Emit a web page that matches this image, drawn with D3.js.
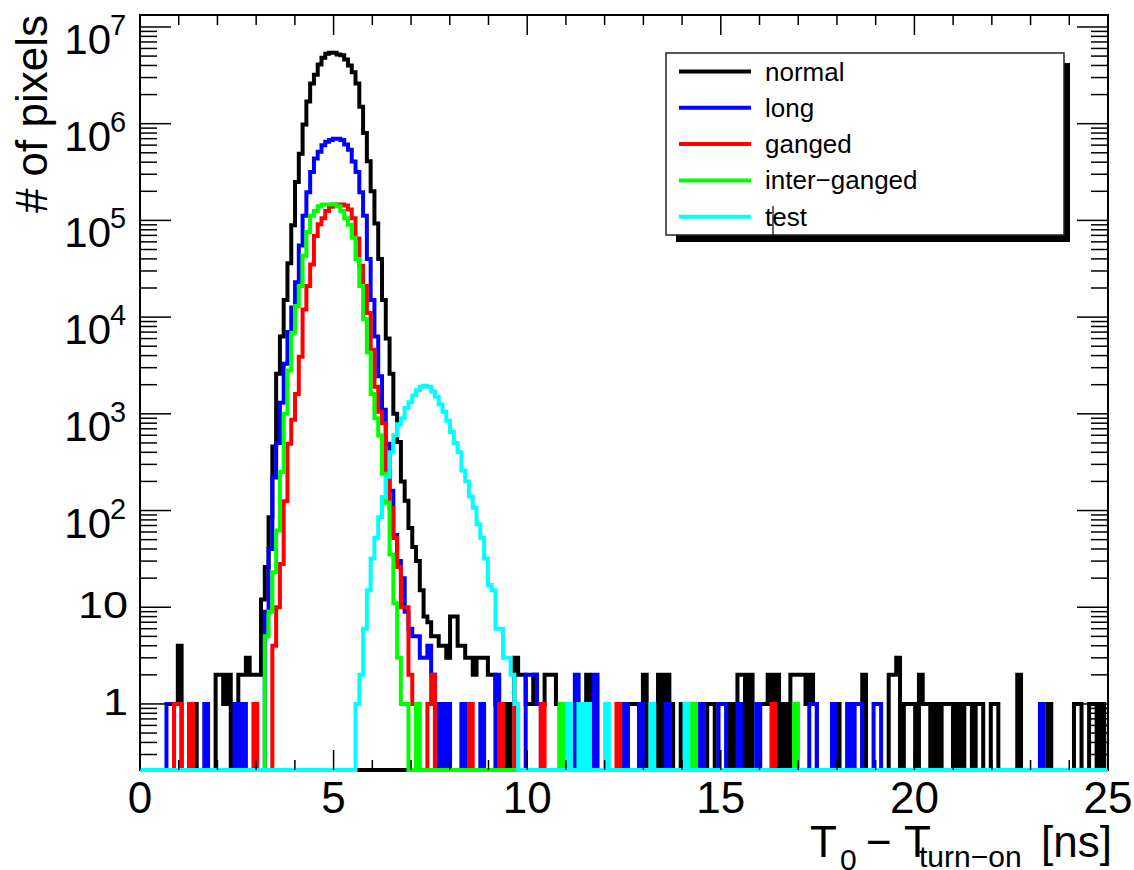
<!DOCTYPE html>
<html lang="en">
<head>
<meta charset="utf-8">
<title>T0 - Tturn-on</title>
<script src="https://cdn.jsdelivr.net/npm/d3@7"></script>
<style>
body { margin: 0; background: #fff; }
text { font-family: "Liberation Sans", Arial, Helvetica, sans-serif; fill: #000; }
</style>
</head>
<body>
<script>
// 256 bins from 0 to 25 ns, counts per bin (16 bins per row)
var nBins = 256, xMax = 25;

var normal = [
  0,0,0,0,0,0,0,0,0,1,4,0,0,1,1,0,
  0,0,0,0,2,2,1,2,0,1,2,2,3,2,2,2,
  12,26,85,460,2600,6300,15000,36000,89000,250000,490000,980000,1700000,2600000,3200000,4100000,
  4800000,5300000,5400000,5400000,5200000,5100000,4600000,4000000,3400000,2600000,1500000,800000,410000,200000,93000,40000,
  15000,6000,2600,1000,510,200,126,66,42,30,15,8,7,5,5,4,
  4,3,8,8,4,4,3,3,2,3,3,3,2,2,1,0,
  1,0,1,3,2,2,1,1,2,1,1,2,2,2,1,0,
  0,0,0,0,0,0,2,1,0,0,0,0,0,0,0,0,
  0,1,1,1,0,2,0,0,0,2,0,2,1,0,0,1,
  0,0,0,0,0,0,1,1,0,0,0,0,1,0,2,2,
  0,2,0,0,1,1,2,1,2,0,1,0,2,2,2,2,
  1,2,1,0,0,0,0,0,1,0,0,0,0,0,0,2,
  0,0,0,0,0,0,2,2,3,0,1,1,1,0,2,1,
  1,0,1,0,1,1,1,0,1,0,1,1,0,1,1,0,
  0,1,1,0,0,0,0,0,2,0,0,0,0,0,0,0,
  1,0,0,0,0,0,0,1,1,0,0,1,1,0,1,0
];

var long = [
  0,0,0,0,0,0,0,1,1,0,0,0,0,0,0,0,
  0,1,0,0,0,0,0,0,0,1,0,1,0,0,0,0,
  0,9,40,220,500,1300,3300,7000,12600,23000,55000,112000,195000,316000,437000,513000,
  600000,650000,680000,700000,700000,680000,610000,537000,407000,316000,195000,112000,40000,15000,6300,2450,
  1100,490,160,56,30,20,9,6,5,5,3,3,4,2,0,1,
  0,1,0,0,0,1,0,0,0,0,1,0,0,0,2,0,
  0,0,0,0,0,0,2,2,2,1,0,0,0,0,0,0,
  0,0,0,2,0,0,0,0,2,0,0,0,0,0,0,0,
  1,0,0,0,1,0,0,0,0,0,0,1,0,0,0,0,
  0,0,0,0,1,0,0,0,0,1,1,0,0,0,1,0,
  0,0,0,1,0,0,0,0,0,0,0,0,0,0,0,0,
  0,1,1,0,0,0,0,1,0,0,0,1,0,1,1,0,
  0,0,1,1,0,0,0,0,0,0,0,0,0,0,0,0,
  0,0,0,0,0,0,0,0,0,0,0,0,0,0,0,0,
  0,0,0,0,0,0,0,0,0,0,0,0,0,0,1,0,
  0,0,0,0,0,0,0,0,0,0,0,0,0,0,0,0
];

var ganged = [
  0,0,0,0,0,0,0,0,0,1,1,0,0,1,0,0,
  0,0,0,0,0,0,0,0,0,0,0,0,0,0,1,0,
  0,0,0,4,10,28,125,490,870,1600,3900,12000,21000,35000,69000,91000,
  105000,125000,138000,146000,146000,146000,143000,130000,105000,65000,34000,21000,11000,4600,1900,1050,
  800,257,107,52,26,10,10,2,1,0,0,0,1,2,0,0,
  0,0,0,0,0,0,0,1,0,0,0,0,0,0,0,1,
  0,0,0,1,0,0,0,0,0,0,1,0,0,0,0,0,
  0,0,0,0,0,0,0,0,0,0,0,0,0,0,1,0,
  0,0,0,0,0,0,0,0,0,0,0,0,0,0,0,0,
  0,0,0,0,0,0,0,0,0,0,0,0,0,0,0,0,
  0,0,0,0,0,0,0,1,0,0,0,0,0,0,0,0,
  0,0,0,0,0,0,0,0,0,0,0,0,0,0,0,0,
  0,0,0,0,0,0,0,0,0,0,0,0,0,0,0,0,
  0,0,0,0,0,0,0,0,0,0,0,0,0,0,0,0,
  0,0,0,0,0,0,0,0,0,0,0,0,0,0,0,0,
  0,0,0,0,0,0,0,0,0,0,0,0,0,0,0,0
];

var interGanged = [
  0,0,0,0,0,0,0,0,0,0,0,0,0,0,0,0,
  0,0,0,0,0,0,0,0,0,0,0,0,0,0,0,0,
  0,5,9,23,62,250,1000,2800,6900,13000,21000,43000,76000,112000,125000,140000,
  146000,146000,146000,146000,140000,125000,105000,90000,66000,40000,21000,9500,4300,1600,900,600,
  240,120,35,11,3,1,1,0,0,1,0,0,0,0,0,0,
  0,0,0,0,0,0,0,0,0,0,0,0,0,0,0,0,
  0,0,0,0,0,0,0,0,0,0,0,0,0,0,0,1,
  0,0,0,0,1,0,0,0,0,0,0,0,0,0,0,0,
  0,0,0,0,0,0,0,0,0,0,0,0,0,0,0,0,
  0,0,1,0,0,0,0,0,0,0,0,0,0,0,0,0,
  0,0,0,0,0,0,0,0,0,0,0,0,0,1,0,0,
  0,0,0,0,0,0,0,0,0,0,0,0,0,0,0,0,
  0,0,0,0,0,0,0,0,0,0,0,0,0,0,0,0,
  0,0,0,0,0,0,0,0,0,0,0,0,0,0,0,0,
  0,0,0,0,0,0,0,0,0,0,0,0,0,0,0,0,
  0,0,0,0,0,0,0,0,0,0,0,0,0,0,0,0
];

var test = [
  0,0,0,0,0,0,0,0,0,0,0,0,0,0,0,0,
  0,0,0,0,0,0,0,0,0,0,0,0,0,0,0,0,
  0,0,0,0,0,0,0,0,0,0,0,0,0,0,0,0,
  0,0,0,0,0,0,0,0,0,1,2,6,15,32,52,85,
  138,224,400,600,780,900,1150,1320,1550,1750,1900,1950,1900,1700,1500,1250,
  1050,850,650,500,400,260,200,140,107,72,52,32,17,15,6,6,
  3,3,2,1,0,0,0,0,0,0,0,0,0,0,0,0,
  0,1,0,0,1,0,1,0,0,0,0,1,0,0,0,0,
  0,0,0,0,0,0,0,1,0,0,0,0,0,0,0,0,
  1,0,0,0,0,0,0,0,0,0,0,0,0,0,0,0,
  0,0,0,0,0,0,0,0,0,0,0,0,0,0,0,0,
  0,0,0,0,0,0,0,0,0,0,0,0,0,0,0,0,
  0,0,0,0,0,0,0,0,0,0,0,0,0,0,0,0,
  0,0,0,0,0,0,0,0,0,0,0,0,0,0,0,0,
  0,0,0,0,0,0,0,0,0,0,0,0,0,0,0,0,
  0,0,0,0,0,0,0,0,0,0,0,0,0,0,0,0
];

var seriesNames = ["normal", "long", "ganged", "inter\u2212ganged", "test"];
var seriesColors = ["#000000", "#0000ff", "#ff0000", "#00ff00", "#00ffff"];
var xTickLabels = [0, 5, 10, 15, 20, 25];
var yDecades = [0, 1, 2, 3, 4, 5, 6, 7];

var series = [normal, long, ganged, interGanged, test];

var width = 1134, height = 870;
var frameL = 140, frameR = 1108, frameT = 15, frameB = 770;
var yMin = 0.2075, yMax = 1.33e7;
var lineW = 4;

var svg = d3.select("body").append("svg")
  .attr("width", width)
  .attr("height", height);

var x = d3.scaleLinear().domain([0, xMax]).range([frameL, frameR]);
var y = d3.scaleLog().domain([yMin, yMax]).range([frameB, frameT]);

// frame
svg.append("rect")
  .attr("x", frameL).attr("y", frameT)
  .attr("width", frameR - frameL).attr("height", frameB - frameT)
  .attr("fill", "none").attr("stroke", "#000").attr("stroke-width", 2);
svg.append("line")
  .attr("x1", frameL).attr("x2", frameR)
  .attr("y1", frameB).attr("y2", frameB)
  .attr("stroke", "#000").attr("stroke-width", lineW);

// histograms, drawn in order so later ones sit on top
var binW = xMax / nBins;
var step = d3.line()
  .curve(d3.curveStepAfter)
  .x(function(d) { return x(d[0]); })
  .y(function(d) { return y(Math.max(d[1], yMin)); });

series.forEach(function(s, k) {
  var pts = s.map(function(v, i) { return [i * binW, v]; });
  pts.push([xMax, s[s.length - 1]]);
  svg.append("path")
    .attr("d", step(pts))
    .attr("fill", "none")
    .attr("stroke", seriesColors[k])
    .attr("stroke-width", lineW);
});

// y ticks (log), both sides
function isDecade(d) {
  var l = Math.log10(d);
  return Math.abs(l - Math.round(l)) < 1e-6;
}
var yTicks = y.ticks();
svg.selectAll("line.yl").data(yTicks).enter().append("line")
  .attr("class", "yl")
  .attr("x1", frameL)
  .attr("x2", function(d) { return frameL + (isDecade(d) ? 31 : 17); })
  .attr("y1", function(d) { return y(d); })
  .attr("y2", function(d) { return y(d); })
  .attr("stroke", "#000").attr("stroke-width", 1.5);
svg.selectAll("line.yr").data(yTicks).enter().append("line")
  .attr("class", "yr")
  .attr("x1", frameR)
  .attr("x2", function(d) { return frameR - (isDecade(d) ? 31 : 17); })
  .attr("y1", function(d) { return y(d); })
  .attr("y2", function(d) { return y(d); })
  .attr("stroke", "#000").attr("stroke-width", 1.5);

// x ticks, bottom and top
var xTicks = x.ticks(25);
svg.selectAll("line.xb").data(xTicks).enter().append("line")
  .attr("class", "xb")
  .attr("x1", function(d) { return x(d); })
  .attr("x2", function(d) { return x(d); })
  .attr("y1", frameB)
  .attr("y2", function(d) { return frameB - (d % 5 === 0 ? 20 : 10); })
  .attr("stroke", "#000").attr("stroke-width", 1.5);
svg.selectAll("line.xt").data(xTicks).enter().append("line")
  .attr("class", "xt")
  .attr("x1", function(d) { return x(d); })
  .attr("x2", function(d) { return x(d); })
  .attr("y1", frameT)
  .attr("y2", function(d) { return frameT + (d % 5 === 0 ? 20 : 10); })
  .attr("stroke", "#000").attr("stroke-width", 1.5);

// x tick labels
svg.selectAll("text.xlab").data(xTickLabels).enter().append("text")
  .attr("class", "xlab")
  .attr("x", function(d) { return x(d); })
  .attr("y", 813)
  .attr("text-anchor", "middle")
  .attr("font-size", "44px")
  .text(function(d) { return d; });

// y tick labels: 1, 10, then 10^k
yDecades.forEach(function(k) {
  var ty = y(Math.pow(10, k));
  if (k < 2) {
    svg.append("text")
      .attr("transform", "translate(128," + (ty + 11) + ") scale(1.25,1)")
      .attr("text-anchor", "end")
      .attr("font-size", "36px")
      .text(k === 0 ? "1" : "10");
  } else {
    svg.append("text")
      .attr("x", 111).attr("y", ty + 27)
      .attr("text-anchor", "end")
      .attr("font-size", "42px")
      .text("10");
    svg.append("text")
      .attr("x", 110).attr("y", ty + 8)
      .attr("font-size", "29px")
      .text(k);
  }
});

// axis titles
svg.append("text")
  .attr("transform", "translate(47," + frameT + ") rotate(-90)")
  .attr("text-anchor", "end")
  .attr("font-size", "44px")
  .text("# of pixels");

var xt = svg.append("g");
xt.append("text").attr("x", 810).attr("y", 857).attr("font-size", "44px").text("T");
xt.append("text").attr("x", 840).attr("y", 870).attr("font-size", "30px").text("0");
xt.append("text").attr("x", 866).attr("y", 857).attr("font-size", "44px").text("\u2212");
xt.append("text").attr("x", 904).attr("y", 857).attr("font-size", "44px").text("T");
xt.append("text").attr("x", 919).attr("y", 867).attr("font-size", "30px").text("turn\u2212on");
xt.append("text").attr("x", 1041).attr("y", 857).attr("font-size", "44px").text("[ns]");

// legend
var lg = svg.append("g");
lg.append("rect")
  .attr("x", 676).attr("y", 63).attr("width", 394).attr("height", 179)
  .attr("fill", "#000");
lg.append("rect")
  .attr("x", 666).attr("y", 53).attr("width", 398).attr("height", 182)
  .attr("fill", "#fff").attr("stroke", "#222").attr("stroke-width", 1.5);
seriesNames.forEach(function(name, k) {
  var ly = 71.5 + 36.3 * k;
  lg.append("line")
    .attr("x1", 679).attr("x2", 751)
    .attr("y1", ly).attr("y2", ly)
    .attr("stroke", seriesColors[k]).attr("stroke-width", lineW);
  lg.append("text")
    .attr("x", 765).attr("y", ly + 9)
    .attr("font-size", "26px")
    .text(name);
});
lg.append("line")
  .attr("x1", 773).attr("x2", 773).attr("y1", 206).attr("y2", 235)
  .attr("stroke", "#000").attr("stroke-width", 1.2);
</script>
</body>
</html>
